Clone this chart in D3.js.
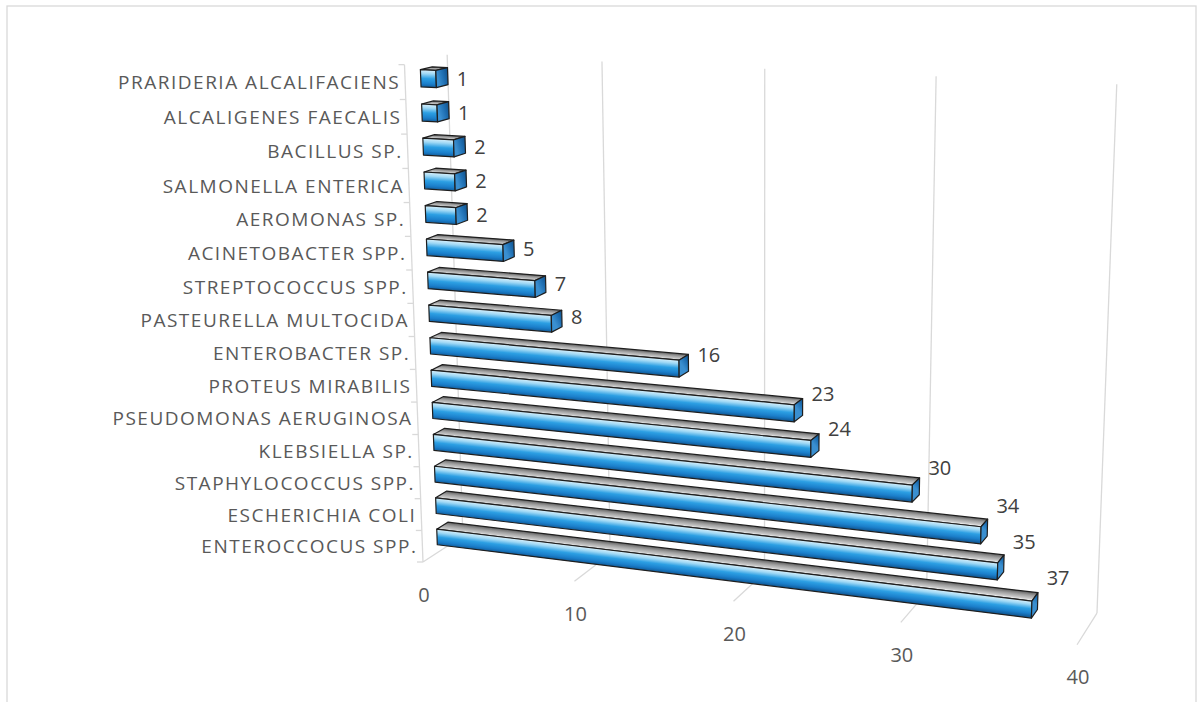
<!DOCTYPE html>
<html><head><meta charset="utf-8">
<script src="https://cdn.jsdelivr.net/npm/d3@7"></script>
<style>body{margin:0;background:#fff;} svg{display:block;} text{font-family:"Open Sans",sans-serif;}</style>
</head><body>
<svg id="chart" width="1199" height="702"></svg>
<script>
// ---- data (bottom to top) ----
const categories = ["ENTEROCCOCUS SPP.","ESCHERICHIA COLI","STAPHYLOCOCCUS SPP.","KLEBSIELLA SP.","PSEUDOMONAS AERUGINOSA","PROTEUS MIRABILIS","ENTEROBACTER SP.","PASTEURELLA MULTOCIDA","STREPTOCOCCUS SPP.","ACINETOBACTER SPP.","AEROMONAS SP.","SALMONELLA ENTERICA","BACILLUS SP.","ALCALIGENES FAECALIS","PRARIDERIA ALCALIFACIENS"];
const values = [37,35,34,30,24,23,16,8,7,5,2,2,2,1,1];
const valueTicks = [0,10,20,30,40];

// ---- 3D box (world units) ----
const W = 663.6, H = 497, D = 86.7;
const xS = d3.scaleLinear().domain([0,40]).range([0,W]);
const yS = d3.scaleBand().domain(categories).range([0,H]).paddingInner(0.5).paddingOuter(0.25);
const barZ = [31,55];

// ---- perspective camera ----
const deg = Math.PI/180, a = -20*deg, b = 13.9*deg;
const R = [Math.cos(a),0,-Math.sin(a)];
const U = [Math.sin(a)*Math.sin(b),Math.cos(b),Math.cos(a)*Math.sin(b)];
const Fw = [Math.sin(a)*Math.cos(b),-Math.sin(b),Math.cos(a)*Math.cos(b)];
const cx = 760, cy = 351, F = 2294, O = [-337,-211,2294];
function P(X,Y,Z){
  const xc=O[0]+X*R[0]+Y*R[1]+Z*R[2];
  const yc=O[1]+X*U[0]+Y*U[1]+Z*U[2];
  const zc=O[2]+X*Fw[0]+Y*Fw[1]+Z*Fw[2];
  return [cx+F*xc/zc, cy-F*yc/zc];
}
const line = d3.line();

const svg = d3.select("#chart");
const defs = svg.append("defs");

// chart border
svg.append("rect").attr("x",7).attr("y",6).attr("width",1189).attr("height",730)
  .attr("fill","#fff").attr("stroke","#d9d9d9").attr("stroke-width",1.3);

const grid = svg.append("g").attr("stroke","#d9d9d9").attr("stroke-width",1.3).attr("fill","none");
valueTicks.forEach(t=>{
  const X = xS(t);
  grid.append("path").attr("d", line([P(X,0,D),P(X,H,D)]));
  grid.append("path").attr("d", line([P(X,0,D),P(X,0,0)]));
});
// category axis (front-left edge) with ticks
grid.append("path").attr("d", line([P(0,0,0),P(0,H,0)]));
const step = yS.step();
d3.range(categories.length+1).forEach(i=>{
  const p = P(0,i*step,0);
  grid.append("path").attr("d", line([p,[p[0]-6,p[1]]]));
});

// axis labels
svg.append("g").selectAll("text").data(valueTicks).join("text")
  .attr("x",d=>P(xS(d),0,0)[0]+1).attr("y",d=>P(xS(d),0,0)[1]+32)
  .attr("text-anchor","middle").attr("dominant-baseline","central")
  .attr("fill","#595959").attr("font-size",20).text(d=>d);

svg.append("g").selectAll("text").data(categories).join("text")
  .attr("x",d=>P(0,yS(d)+yS.bandwidth()/2,0)[0]-5)
  .attr("y",d=>P(0,yS(d)+yS.bandwidth()/2,0)[1])
  .attr("text-anchor","end").attr("dominant-baseline","central")
  .attr("fill","#595959").attr("font-size",19).attr("letter-spacing",1.5).text(d=>d);

// bars
const bars = svg.append("g");
const order = d3.range(categories.length).reverse();
function gradUser(id, p1, p2, stops){
  const g = defs.append("linearGradient").attr("id",id).attr("gradientUnits","userSpaceOnUse")
    .attr("x1",p1[0]).attr("y1",p1[1]).attr("x2",p2[0]).attr("y2",p2[1]);
  stops.forEach(s=>g.append("stop").attr("offset",s[0]).attr("stop-color",s[1]));
}
function normalGrad(id, A, B, C, stops){
  let dx=B[0]-A[0], dy=B[1]-A[1]; const L=Math.hypot(dx,dy)||1; dx/=L; dy/=L;
  const n=[-dy,dx];
  const t=(C[0]-A[0])*n[0]+(C[1]-A[1])*n[1];
  gradUser(id, A, [A[0]+n[0]*t, A[1]+n[1]*t], stops);
}
const frontStops=[[0,"#d9f1fc"],[0.22,"#9fd8f5"],[0.5,"#2c9fe3"],[0.8,"#1b7fcb"],[1,"#125f9f"]];
const topStops=[[0,"#5e5e5e"],[0.4,"#9c9c9c"],[0.8,"#c8c8c8"],[1,"#f0f0f0"]];
const capStops=[[0,"#3a8fd0"],[0.5,"#1f6fb2"],[1,"#0f4f88"]];
order.forEach(i=>{
  const c=categories[i], v=values[i];
  const y0=yS(c), y1=y0+yS.bandwidth(), z0=barZ[0], z1=barZ[1], Xe=xS(v);
  const fTL=P(0,y1,z0), fTR=P(Xe,y1,z0), fBR=P(Xe,y0,z0), fBL=P(0,y0,z0);
  const tBL=P(0,y1,z1), tBR=P(Xe,y1,z1);
  const cBR=P(Xe,y0,z1);
  normalGrad("gf"+i, fTL, fTR, fBL, frontStops);
  normalGrad("gt"+i, tBL, tBR, fTL, topStops);
  gradUser("gc"+i, fTR, tBR, capStops);
  const g=bars.append("g").attr("stroke","#1e1e1e").attr("stroke-width",1.2).attr("stroke-linejoin","round");
  g.append("path").attr("d",line([tBL,tBR,fTR,fTL])+"Z").attr("fill",`url(#gt${i})`);
  g.append("path").attr("d",line([fTL,fTR,fBR,fBL])+"Z").attr("fill",`url(#gf${i})`);
  g.append("path").attr("d",line([fTR,tBR,cBR,fBR])+"Z").attr("fill",`url(#gc${i})`);
});

// value labels
svg.append("g").selectAll("text").data(categories).join("text")
  .attr("x",(d,i)=>P(xS(values[i]),yS(d)+yS.bandwidth()/2,barZ[1])[0]+9)
  .attr("y",(d,i)=>P(xS(values[i]),yS(d)+yS.bandwidth()/2,barZ[0])[1]-0.052*xS(values[i]))
  .attr("dominant-baseline","central")
  .attr("fill","#404040").attr("font-size",20).text((d,i)=>values[i]);
</script>
</body></html>
